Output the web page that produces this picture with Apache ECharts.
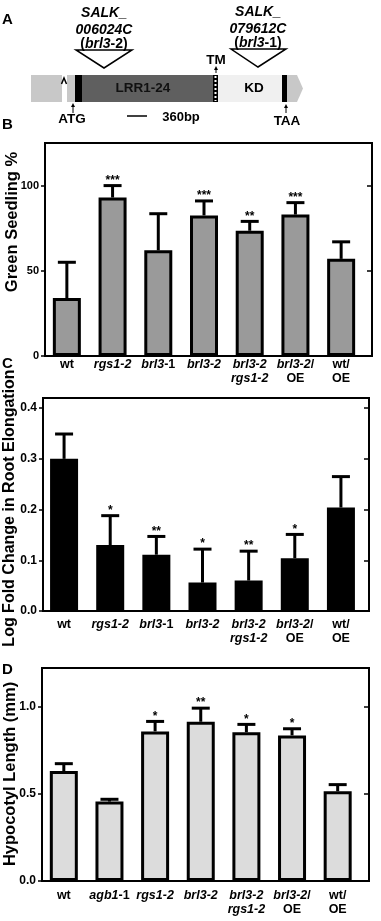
<!DOCTYPE html>
<html>
<head>
<meta charset="utf-8">
<script src="https://cdn.jsdelivr.net/npm/echarts@6.0.0/dist/echarts.min.js"></script>
<style>
  html, body { margin: 0; padding: 0; background: #fff; }
  #chart { width: 381px; height: 921px; }
</style>
</head>
<body>
<div id="chart"></div>
<script>
// ===== categories =====
const genotypesBC = ['wt', 'rgs1-2', 'brl3-1', 'brl3-2', 'brl3-2\nrgs1-2', 'brl3-2/\nOE', 'wt/\nOE'];
const genotypesD = ['wt', 'agb1-1', 'rgs1-2', 'brl3-2', 'brl3-2\nrgs1-2', 'brl3-2/\nOE', 'wt/\nOE'];

// ===== B: Green Seedling % =====
const greenSeedling = [34, 93, 62, 82.5, 73.5, 83, 57];
const greenSeedlingErr = [21, 7, 21.5, 8.5, 5.5, 7, 10];
const greenSeedlingSig = ['', '***', '', '***', '**', '***', ''];
const greenTicks = [0, 50, 100];

// ===== C: Log Fold Change in Root Elongation =====
const rootElong = [0.30, 0.13, 0.111, 0.056, 0.06, 0.104, 0.204];
const rootElongErr = [0.049, 0.058, 0.036, 0.066, 0.058, 0.047, 0.061];
const rootElongSig = ['', '*', '**', '*', '**', '*', ''];
const rootTicks = [0, 0.1, 0.2, 0.3, 0.4];

// ===== D: Hypocotyl Length (mm) =====
const hypocotyl = [0.63, 0.455, 0.857, 0.912, 0.852, 0.834, 0.514];
const hypocotylErr = [0.042, 0.013, 0.057, 0.078, 0.045, 0.038, 0.038];
const hypocotylSig = ['', '', '*', '**', '*', '*', ''];
const hypoTicks = [0, 0.5, 1.0];

const FONT = "'Liberation Sans', Arial, Helvetica, sans-serif";

const grids = [];
const xAxes = [];
const yAxes = [];
const series = [];

// 基因名用斜体，其余正体
function xLabel(s) {
  return s.split('\n').map(function (line) {
    const m = line.match(/^(brl3|agb1)(-1)$/);
    if (m) return '{i|' + m[1] + '}{n|' + m[2] + '}';
    if (line === 'brl3-2/') return '{i|brl3-2}{n|/}';
    if (line === 'wt' || line === 'wt/' || line === 'OE') return '{n|' + line + '}';
    return '{i|' + line + '}';
  }).join('\n');
}

function addPanel(p) {
  const gFrame = grids.length;
  grids.push(Object.assign({ show: true, borderColor: '#000', borderWidth: 2 }, p.frame));
  const gBars = grids.length;
  grids.push(Object.assign({ show: false }, p.bars));

  // frame grid: box + y ticks
  xAxes.push({ gridIndex: gFrame, type: 'value', show: false, min: 0, max: 1 });
  yAxes.push({
    gridIndex: gFrame, type: 'value', position: 'left',
    min: 0, max: p.max, interval: p.interval,
    axisLine: { show: false }, splitLine: { show: false },
    axisTick: { show: true, inside: false, length: 4, lineStyle: { color: '#000', width: 1.5 }, customValues: p.ticks },
    axisLabel: {
      margin: 6, color: '#000', fontWeight: 'bold', fontFamily: FONT, fontSize: p.tickFont,
      formatter: p.fmt, customValues: p.ticks
    }
  });
  yAxes.push({
    gridIndex: gFrame, type: 'value', position: 'right',
    min: 0, max: p.max, interval: p.interval,
    axisLine: { show: false }, splitLine: { show: false },
    axisTick: { show: true, inside: true, length: 5, lineStyle: { color: '#000', width: 1.5 }, customValues: p.ticks },
    axisLabel: { show: false }
  });

  // bar grid
  const xIdx = xAxes.length;
  xAxes.push({
    gridIndex: gBars, type: 'category', data: p.cats,
    axisLine: { show: false }, axisTick: { show: false },
    axisLabel: {
      interval: 0, margin: p.labelMargin, color: '#000', formatter: xLabel,
      rich: {
        i: { fontFamily: FONT, fontWeight: 'bold', fontStyle: 'italic', fontSize: 12.5, lineHeight: 14, color: '#000' },
        n: { fontFamily: FONT, fontWeight: 'bold', fontSize: 12.5, lineHeight: 14, color: '#000' }
      }
    }
  });
  const yIdx = yAxes.length;
  yAxes.push({ gridIndex: gBars, type: 'value', min: 0, max: p.max, show: false });

  series.push({
    type: 'bar', xAxisIndex: xIdx, yAxisIndex: yIdx,
    data: p.values, barWidth: 28,
    itemStyle: { color: p.color, borderColor: '#000', borderWidth: 3 },
    silent: true, z: 2
  });

  const sig = p.sig;
  series.push({
    type: 'custom', xAxisIndex: xIdx, yAxisIndex: yIdx,
    data: p.values.map(function (v, i) { return [i, v, p.errs[i]]; }),
    encode: { x: 0, y: 1 },
    clip: false, silent: true, z: 3,
    renderItem: function (params, api) {
      const i = api.value(0);
      const base = api.coord([i, api.value(1)]);
      const top = api.coord([i, api.value(1) + api.value(2)]);
      return {
        type: 'group',
        children: [
          { type: 'line', shape: { x1: top[0], y1: base[1], x2: top[0], y2: top[1] }, style: { stroke: '#000', lineWidth: 3 } },
          { type: 'line', shape: { x1: top[0] - 9, y1: top[1], x2: top[0] + 9, y2: top[1] }, style: { stroke: '#000', lineWidth: 3 } },
          {
            type: 'text', x: top[0], y: top[1] - 5,
            style: { text: sig[params.dataIndex], align: 'center', verticalAlign: 'middle', font: 'bold 12px ' + FONT, fill: '#000' }
          }
        ]
      };
    }
  });
}

addPanel({
  frame: { left: 45, top: 143, width: 327, height: 213 },
  bars: { left: 44, top: 143, width: 320, height: 213 },
  max: 125, interval: 50, ticks: greenTicks, tickFont: 11,
  fmt: function (v) { return String(v); },
  cats: genotypesBC, labelMargin: 2,
  values: greenSeedling, errs: greenSeedlingErr, sig: greenSeedlingSig, color: '#9a9a9a'
});

addPanel({
  frame: { left: 43, top: 398, width: 326, height: 213 },
  bars: { left: 41, top: 398, width: 323, height: 213 },
  max: 0.42, interval: 0.1, ticks: rootTicks, tickFont: 12,
  fmt: function (v) { return v.toFixed(1); },
  cats: genotypesBC, labelMargin: 7,
  values: rootElong, errs: rootElongErr, sig: rootElongSig, color: '#000'
});

addPanel({
  frame: { left: 42, top: 668, width: 327, height: 213 },
  bars: { left: 41, top: 668, width: 319.5, height: 213 },
  max: 1.22, interval: 0.5, ticks: hypoTicks, tickFont: 12,
  fmt: function (v) { return v.toFixed(1); },
  cats: genotypesD, labelMargin: 8,
  values: hypocotyl, errs: hypocotylErr, sig: hypocotylSig, color: '#dcdcdc'
});

// ===== 文字与面板 A 示意图 =====
function txt(text, x, y, size, extra) {
  return {
    type: 'text', x: x, y: y,
    style: Object.assign({ text: text, align: 'center', verticalAlign: 'middle', font: 'bold ' + size + 'px ' + FONT, fill: '#000' }, extra || {})
  };
}
const richA = {
  i: { fontFamily: FONT, fontWeight: 'bold', fontStyle: 'italic', fontSize: 14, fill: '#000' },
  n: { fontFamily: FONT, fontWeight: 'bold', fontSize: 14, fill: '#000' }
};
function arrowUp(x, y1, y2) {
  return [
    { type: 'line', shape: { x1: x, y1: y1, x2: x, y2: y2 + 2 }, style: { stroke: '#000', lineWidth: 1 } },
    { type: 'polygon', shape: { points: [[x - 2, y2 + 4], [x, y2], [x + 2, y2 + 4]] }, style: { fill: '#000' } }
  ];
}
const ITAL = 'italic bold 14px ' + FONT;

const graphics = [
  // panel letters
  txt('A', 2, 20, 15, { align: 'left' }),
  txt('B', 2, 125, 15, { align: 'left' }),
  txt('C', 2, 364, 15, { align: 'left' }),
  txt('D', 2, 670, 15, { align: 'left' }),
  // y titles
  Object.assign(txt('Green Seedling %', 12, 222, 16.5), { rotation: Math.PI / 2 }),
  Object.assign(txt('Log Fold Change in Root Elongation', 10, 508, 16), { rotation: Math.PI / 2 }),
  Object.assign(txt('Hypocotyl Length (mm)', 10, 774, 16.5), { rotation: Math.PI / 2 }),
  // gene model
  { type: 'rect', shape: { x: 31, y: 75, width: 31, height: 27 }, style: { fill: '#c8c8c8' } },
  { type: 'rect', shape: { x: 67, y: 75, width: 8, height: 27 }, style: { fill: '#c8c8c8' } },
  { type: 'rect', shape: { x: 75, y: 75, width: 7, height: 27 }, style: { fill: '#000' } },
  { type: 'rect', shape: { x: 82, y: 75, width: 131, height: 27 }, style: { fill: '#5f5f5f' } },
  { type: 'rect', shape: { x: 213, y: 75, width: 5, height: 27 }, style: { fill: '#000' } },
  { type: 'line', shape: { x1: 215.5, y1: 76, x2: 215.5, y2: 101 }, style: { stroke: '#fff', lineWidth: 2, lineDash: [2, 2] } },
  { type: 'rect', shape: { x: 218, y: 75, width: 64, height: 27 }, style: { fill: '#f0f0f0' } },
  { type: 'rect', shape: { x: 282, y: 75, width: 5, height: 27 }, style: { fill: '#000' } },
  { type: 'polygon', shape: { points: [[287, 75], [297, 75], [303, 88.5], [297, 102], [287, 102]] }, style: { fill: '#c8c8c8' } },
  { type: 'polyline', shape: { points: [[61.5, 84], [64, 78], [66.5, 84]] }, style: { stroke: '#000', lineWidth: 1.5, fill: null } },
  txt('LRR1-24', 143, 88.5, 13.5, { fill: '#111' }),
  txt('KD', 254, 88.5, 13.5),
  // insertions
  { type: 'polygon', shape: { points: [[76, 50], [132, 50], [104, 68]] }, style: { fill: '#fff', stroke: '#000', lineWidth: 1.5 } },
  { type: 'polygon', shape: { points: [[231, 49], [286, 49], [258, 67]] }, style: { fill: '#fff', stroke: '#000', lineWidth: 1.5 } },
  txt('SALK_', 104, 13, 14, { font: ITAL }),
  txt('006024C', 104, 30.5, 14, { font: ITAL }),
  txt('{n|(}{i|brl3}{n|-2)}', 104, 44.5, 14, { rich: richA }),
  txt('SALK_', 258, 12, 14, { font: ITAL }),
  txt('079612C', 258, 29, 14, { font: ITAL }),
  txt('{n|(}{i|brl3}{n|-1)}', 258, 43, 14, { rich: richA }),
  // landmarks
  txt('TM', 216, 60, 13.5),
  txt('ATG', 72, 119.5, 13.5),
  txt('TAA', 287, 121, 13.5),
  { type: 'line', shape: { x1: 127, y1: 116, x2: 147, y2: 116 }, style: { stroke: '#000', lineWidth: 1.5 } },
  txt('360bp', 181, 117, 13)
].concat(arrowUp(216, 73, 66), arrowUp(73, 113, 103), arrowUp(286, 113, 104));

const chart = echarts.init(document.getElementById('chart'), null, { renderer: 'canvas' });
chart.setOption({
  backgroundColor: '#fff',
  animation: false,
  grid: grids,
  xAxis: xAxes,
  yAxis: yAxes,
  series: series,
  graphic: graphics
});
window.addEventListener('resize', function () { chart.resize(); });
</script>
</body>
</html>
